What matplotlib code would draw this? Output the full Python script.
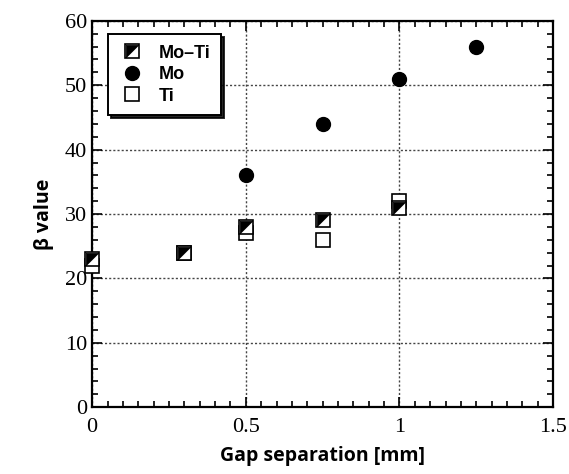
import numpy as np
import matplotlib
matplotlib.use("Agg")
import matplotlib.pyplot as plt
from matplotlib.ticker import MultipleLocator
from matplotlib.legend_handler import HandlerTuple

# values
moti_x = [0.0, 0.3, 0.5, 0.75, 1.0]
moti_y = [23, 24, 28, 29, 31]
mo_x = [0.5, 0.75, 1.0, 1.25]
mo_y = [36, 44, 51, 56]
ti_x = [0.0, 0.3, 0.5, 0.75, 1.0]
ti_y = [22, 24, 27, 26, 32]

fig = plt.figure(figsize=(5.69, 4.74), dpi=100)
ax = fig.add_axes([0.162, 0.141, 0.81, 0.815])

tri = [(-1, -1), (-1, 1), (1, 1), (-1, -1)]

ax.plot(ti_x, ti_y, ls='none', marker='s', ms=10, mfc='white', mec='black', mew=1.2, zorder=3, clip_on=False)
h_sq, = ax.plot(moti_x, moti_y, ls='none', marker='s', ms=10, mfc='white', mec='black', mew=1.2, zorder=4, clip_on=False)
h_tri, = ax.plot(moti_x, moti_y, ls='none', marker=tri, ms=9, mfc='black', mec='black', mew=0.5, zorder=5, clip_on=False)
h_mo, = ax.plot(mo_x, mo_y, ls='none', marker='o', ms=10, mfc='black', mec='black', zorder=4)
h_ti, = ax.plot([], [], ls='none', marker='s', ms=10, mfc='white', mec='black', mew=1.2)

ax.set_xlim(0, 1.5)
ax.set_ylim(0, 60)
ax.xaxis.set_minor_locator(MultipleLocator(0.05))
ax.yaxis.set_major_locator(MultipleLocator(10))
ax.yaxis.set_minor_locator(MultipleLocator(2))
ax.set_xticks([0, 0.5, 1, 1.5])
ax.set_xticklabels(['0', '0.5', '1', '1.5'])
ax.tick_params(which='both', direction='in', top=True, right=True, width=1.2)
ax.tick_params(which='major', length=7)
ax.tick_params(which='minor', length=4)
for lab in ax.get_xticklabels() + ax.get_yticklabels():
    lab.set_fontfamily('Liberation Serif')
    lab.set_fontsize(16)
ax.tick_params(axis='x', pad=8)
for s in ax.spines.values():
    s.set_linewidth(1.6)

ax.grid(True, which='major', ls=(0, (1.5, 1.5)), color='#444444', lw=1.0)

ax.set_xlabel('Gap separation [mm]', fontfamily='Open Sans', fontweight='bold', fontsize=14, labelpad=6)
ax.set_ylabel('β value', fontfamily='Open Sans', fontweight='bold', fontsize=14, labelpad=8)

leg = ax.legend([(h_sq, h_tri), h_mo, h_ti], ['Mo\u2013Ti', 'Mo', 'Ti'],
                handler_map={tuple: HandlerTuple(ndivide=1)},
                loc='upper left', bbox_to_anchor=(0.015, 0.99),
                prop={'family': 'Liberation Sans', 'weight': 'bold', 'size': 13},
                fancybox=False, shadow={'ox': 2, 'oy': -2, 'color': 'black', 'alpha': 0.85},
                framealpha=1, edgecolor='black',
                handletextpad=0.7, borderpad=0.6, labelspacing=0.25, handlelength=1.5)
leg.get_frame().set_linewidth(1.4)

fig.savefig('out.png', dpi=100)
